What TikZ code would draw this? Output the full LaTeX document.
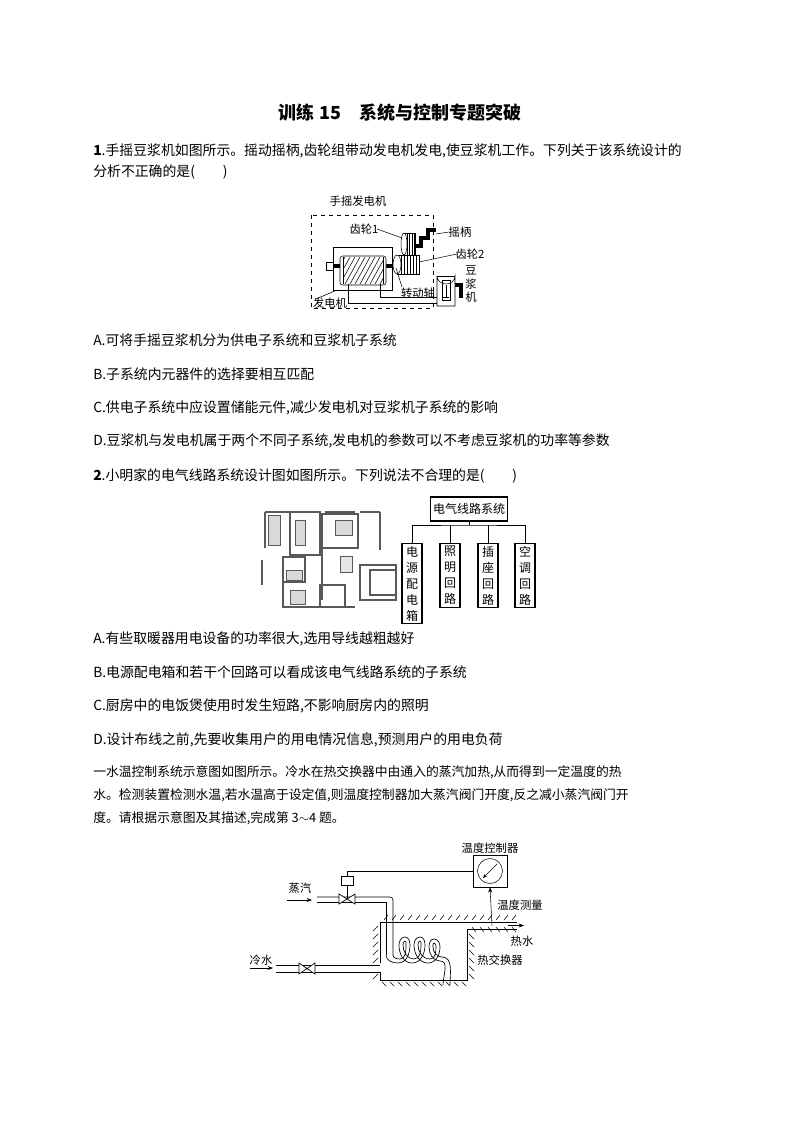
\documentclass[tikz,border=0pt]{standalone}
\usepackage{fontspec}
\setmainfont{Noto Sans CJK SC}
\usetikzlibrary{arrows.meta}
\begin{document}
\begin{tikzpicture}[x=0.75pt,y=-0.75pt,
  txt/.style={anchor=west,inner sep=0pt,font=\fontsize{10.4}{12}\selectfont},
  sm/.style={inner sep=0pt,font=\fontsize{8.5}{9}\selectfont},
  par/.style={anchor=west,inner sep=0pt,font=\fontsize{9.6}{11}\selectfont},
  vbox/.style={draw,thick,minimum width=15pt,align=center,inner sep=2pt,font=\fontsize{9}{12}\selectfont},
  wall/.style={line width=0.7pt},
  pipe/.style={line width=0.5pt}]
\useasboundingbox (0,0) rectangle (794,1123);
% title
\node[inner sep=0pt,font=\fontsize{13.5}{15}\selectfont\bfseries] (title) at (400,113) {训练 15\quad 系统与控制专题突破};
% Q1
\node[txt] (q1a) at (93,151) {\textbf{1}.手摇豆浆机如图所示。摇动摇柄,齿轮组带动发电机发电,使豆浆机工作。下列关于该系统设计的};
\node[txt] (q1b) at (93,172) {分析不正确的是(\qquad)};
\node[txt] (q1A) at (93,340) {\textit{A}.可将手摇豆浆机分为供电子系统和豆浆机子系统};
\node[txt] (q1B) at (93,374) {\textit{B}.子系统内元器件的选择要相互匹配};
\node[txt] (q1C) at (93,408) {\textit{C}.供电子系统中应设置储能元件,减少发电机对豆浆机子系统的影响};
\node[txt] (q1D) at (93,441) {\textit{D}.豆浆机与发电机属于两个不同子系统,发电机的参数可以不考虑豆浆机的功率等参数};
% Q2
\node[txt] (q2a) at (93,476) {\textbf{2}.小明家的电气线路系统设计图如图所示。下列说法不合理的是(\qquad)};
\node[txt] (q2A) at (93,639) {\textit{A}.有些取暖器用电设备的功率很大,选用导线越粗越好};
\node[txt] (q2B) at (93,672) {\textit{B}.电源配电箱和若干个回路可以看成该电气线路系统的子系统};
\node[txt] (q2C) at (93,706) {\textit{C}.厨房中的电饭煲使用时发生短路,不影响厨房内的照明};
\node[txt] (q2D) at (93,740) {\textit{D}.设计布线之前,先要收集用户的用电情况信息,预测用户的用电负荷};
% paragraph
\node[par] (p1) at (93,772) {一水温控制系统示意图如图所示。冷水在热交换器中由通入的蒸汽加热,从而得到一定温度的热};
\node[par] (p2) at (93,795) {水。检测装置检测水温,若水温高于设定值,则温度控制器加大蒸汽阀门开度,反之减小蒸汽阀门开};
\node[par] (p3) at (93,818) {度。请根据示意图及其描述,完成第 3$\sim$4 题。};

% ===== Figure 1 =====
\draw[dashed] (311,215) rectangle (433,308);
\node[sm] (l1) at (358,201) {手摇发电机};
\draw (333,247) rectangle (392,290);
\draw[line width=3pt] (330,266) -- (398,266);
\draw[fill=white] (326,262) rectangle (333,270);
\draw[fill=white,rounded corners=2pt] (340,256) rectangle (386,285);
\begin{scope}
\clip (343,257) rectangle (383,284);
\foreach \i in {0,5,...,60} \draw (330+\i,284) -- (345+\i,257);
\end{scope}
\draw (343,257) -- (343,284) (383,257) -- (383,284);
% gear 1
\draw[fill=white] (404,233) rectangle (415,255);
\foreach \i in {407,409.5,...,415} \draw (\i,233) -- (\i,255);
\draw[fill=white] (404,244) ellipse (3 and 11);
% crank
\draw[line width=2.5pt] (415,246) -- (421,246) -- (421,238) -- (428,238) -- (428,230) -- (436,230);
% gear 2
\draw[fill=white] (397,255) rectangle (419,274);
\foreach \i in {401,404,...,419} \draw (\i,255) -- (\i,274);
\draw[fill=white] (397,264.5) ellipse (4 and 9.5);
% soymilk machine
\draw (437,276) -- (437,306) -- (455,306) -- (455,276) arc (0:180:9 and 8);
\draw (437,276) -- (455,276);
\draw (442,280) rectangle (450,300);
\draw (446,285) -- (446,297) (443,297) -- (449,297);
\draw[line width=2.5pt] (455,285) -- (461,285) -- (461,298);
% wires
\draw (348,284) -- (348,303) -- (437,303);
\draw (380,284) -- (380,297) -- (437,297);
% labels
\node[sm] (g1) at (364,229) {齿轮1};
\draw (377,229) -- (402,238);
\node[sm] (yb) at (460,232) {摇柄};
\draw (436,234) -- (449,232);
\node[sm] (g2) at (470,254) {齿轮2};
\draw (419,262) -- (457,254);
\node[sm] (zd) at (418,293) {转动轴};
\draw (402,287) -- (396,268);
\node[sm] (fd) at (330,303) {发电机};
\draw (316,299) -- (337,290);
\node[sm,align=center,font=\fontsize{8.5}{10}\selectfont] (dj) at (471,284) {豆\\浆\\机};

% ===== Figure 2 =====
\begin{scope}[gray!70!black]
\draw[line width=2pt] (265,512) -- (300,512) (325,512) -- (355,512) (360,512) -- (380,512);
\draw[line width=2pt] (265,512) -- (265,548) (262,560)--(262,585) (283,562)--(283,607)--(355,607) (380,512)--(380,550);
\draw[line width=1pt] (290,512) rectangle (320,555) (322,514) rectangle (358,548) (322,548) -- (322,600);
\draw[line width=1pt] (283,557) rectangle (305,582) (320,585) rectangle (345,607);
\draw[line width=1pt] (360,565) rectangle (396,600);
\draw[line width=2pt] (370,570) rectangle (396,595);
\draw[fill=gray!30] (268,515) rectangle (280,545) (295,520) rectangle (305,545) (335,520) rectangle (352,535) (286,570) rectangle (302,580) (290,590) rectangle (305,604);
\draw[fill=gray!20] (340,556) rectangle (352,572);
\end{scope}
\node[draw,thick,font=\fontsize{9}{11}\selectfont,inner sep=2pt,minimum height=18pt] (root) at (469,509) {电气线路系统};
\coordinate (bar) at (469,525);
\node[vbox,anchor=north] (c1) at (412,543) {电\\源\\配\\电\\箱};
\node[vbox,anchor=north] (c2) at (450,543) {照\\明\\回\\路};
\node[vbox,anchor=north] (c3) at (488,543) {插\\座\\回\\路};
\node[vbox,anchor=north] (c4) at (525,543) {空\\调\\回\\路};
\draw (root.south) -- (bar);
\draw (c1.north) |- (bar) -| (c4.north);
\draw (c2.north) -- ++(0,-18);
\draw (c3.north) -- ++(0,-18);

% ===== Figure 3 =====
\node[sm] (tc) at (490,848) {温度控制器};
\node[draw,minimum width=34pt*0.75,minimum height=32pt*0.75,inner sep=0pt] (ctrl) at (490,871) {};
\draw (490,871) circle (12.5);
\draw[-{Stealth[length=3pt]}] (497,864) -- (483,878);
\node[draw,fill=white,minimum width=9pt,minimum height=6.5pt,inner sep=0pt] (act) at (347,881) {};
\draw (ctrl.west) -- (347,871) -- (act.north);
\draw (act.south) -- (347,899);
% steam pipe
\draw[pipe] (317,897) -- (390,897) to[out=0,in=90] (393,900) -- (393,955);
\draw[pipe] (317,902) -- (386,902) -- (386,955);
\draw[fill=white,pipe] (339,894) -- (339,904) -- (355,894) -- (355,904) -- cycle;
\node[sm] (st) at (300,888) {蒸汽};
\draw[-{Stealth[length=4pt]}] (287,900) -- (312,900);
% coils
\draw[pipe] (386,955) to[out=270,in=180] (398,963) to[out=0,in=270] (410,945) to[out=90,in=0] (405,937) to[out=180,in=90] (399,945) to[out=270,in=180] (412,963) to[out=0,in=270] (425,945) to[out=90,in=0] (420,937) to[out=180,in=90] (414,945) to[out=270,in=180] (428,963) to[out=0,in=270] (440,947) to[out=90,in=0] (434,939) to[out=180,in=90] (429,947) to[out=270,in=180] (440,961) to[out=0,in=90] (443,985);
\draw[pipe] (393,955) to[out=270,in=180] (400,959) to[out=0,in=270] (406,945) to[out=90,in=0] (405,941) to[out=180,in=90] (403,945) to[out=270,in=180] (414,959) to[out=0,in=270] (421,945) to[out=90,in=0] (420,941) to[out=180,in=90] (418,945) to[out=270,in=180] (430,959) to[out=0,in=270] (436,947) to[out=90,in=0] (434,943) to[out=180,in=90] (433,947) to[out=270,in=180] (442,957) to[out=0,in=90] (450,985);
% vessel
\draw[wall] (517,922) -- (380,922) -- (380,963);
\draw[wall] (380,972) -- (380,980) -- (467,980) -- (467,929) -- (517,929);
\foreach \x in {384,392,...,514} \draw (\x,920) -- (\x+4,915);
\foreach \y in {926,934,...,958} \draw (378,\y) -- (373,\y+5);
\draw (378,974) -- (373,979);
\foreach \x in {382,390,...,462} \draw (\x,982) -- (\x+4,986);
\foreach \x in {472,480,...,514} \draw (\x,927) -- (\x+4,932);
\foreach \y in {934,942,...,974} \draw (469,\y) -- (474,\y+5);
\draw[-{Stealth[length=4pt]}] (508,925.5) -- (524,925.5);
\draw[-{Stealth[length=4pt]}] (492,925.5) -- (ctrl.south);
\node[sm] (tm) at (520,905) {温度测量};
\node[sm] (hw) at (522,941) {热水};
\node[sm] (hx) at (500,960) {热交换器};
% cold water
\draw[pipe] (276,965) -- (380,965) (276,972) -- (380,972);
\draw[fill=white,pipe] (299,963) -- (299,974) -- (315,963) -- (315,974) -- cycle;
\node[sm] (cw) at (261,960) {冷水};
\draw[-{Stealth[length=4pt]}] (250,968) -- (273,968);
\end{tikzpicture}
\end{document}
